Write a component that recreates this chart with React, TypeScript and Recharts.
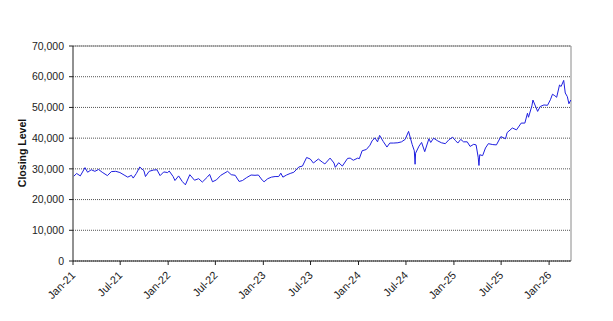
import React from 'react';
import { LineChart, Line, XAxis, YAxis, CartesianGrid, ReferenceLine } from 'recharts';

// closing level, read off the reference roughly twice a month (plus the sharp moves)
const dates: string[] = [
  '2021-01-04', '2021-01-15', '2021-01-29', '2021-02-16', '2021-02-26', '2021-03-12', '2021-03-26',
  '2021-04-09', '2021-04-23', '2021-05-13', '2021-05-28', '2021-06-14', '2021-06-30', '2021-07-16',
  '2021-07-30', '2021-08-13', '2021-08-20', '2021-09-01', '2021-09-14', '2021-09-30', '2021-10-06',
  '2021-10-20', '2021-11-05', '2021-11-19', '2021-12-01', '2021-12-15', '2021-12-30',
  '2022-01-05', '2022-01-20', '2022-01-27', '2022-02-10', '2022-02-24', '2022-03-08', '2022-03-25',
  '2022-04-12', '2022-04-28', '2022-05-12', '2022-05-31', '2022-06-09', '2022-06-20', '2022-07-05',
  '2022-07-22', '2022-08-17', '2022-08-31', '2022-09-15', '2022-09-30', '2022-10-13', '2022-10-28',
  '2022-11-15', '2022-11-30', '2022-12-13', '2022-12-28',
  '2023-01-04', '2023-01-18', '2023-02-01', '2023-02-15', '2023-03-01', '2023-03-09', '2023-03-17',
  '2023-03-31', '2023-04-14', '2023-04-28', '2023-05-17', '2023-05-31', '2023-06-16', '2023-06-30',
  '2023-07-12', '2023-07-31', '2023-08-15', '2023-08-25', '2023-09-14', '2023-09-29', '2023-10-04',
  '2023-10-17', '2023-10-31', '2023-11-20', '2023-11-30', '2023-12-12', '2023-12-29',
  '2024-01-04', '2024-01-15', '2024-01-31', '2024-02-14', '2024-02-22', '2024-03-04', '2024-03-14',
  '2024-03-22', '2024-04-05', '2024-04-19', '2024-04-30', '2024-05-15', '2024-05-31', '2024-06-14',
  '2024-06-28', '2024-07-11', '2024-07-25', '2024-08-02', '2024-08-05', '2024-08-07', '2024-08-20',
  '2024-08-30', '2024-09-11', '2024-09-27', '2024-10-04', '2024-10-15', '2024-10-31', '2024-11-14',
  '2024-11-29', '2024-12-13', '2024-12-27',
  '2025-01-06', '2025-01-16', '2025-01-27', '2025-02-07', '2025-02-21', '2025-03-04', '2025-03-18',
  '2025-03-27', '2025-04-04', '2025-04-07', '2025-04-10', '2025-04-21', '2025-05-02', '2025-05-13',
  '2025-05-30', '2025-06-13', '2025-06-30', '2025-07-18', '2025-07-24', '2025-08-13', '2025-08-29',
  '2025-09-16', '2025-09-30', '2025-10-10', '2025-10-14', '2025-10-27', '2025-10-31', '2025-11-18',
  '2025-11-28', '2025-12-12', '2025-12-26',
  '2026-01-06', '2026-01-14', '2026-01-23', '2026-01-30', '2026-02-10', '2026-02-16', '2026-02-26',
  '2026-03-04', '2026-03-12', '2026-03-18', '2026-03-25',
];

const closes: number[] = [
  27600, 28500, 27700, 30400, 28900, 29700, 29200,
  29800, 28900, 27800, 29100, 29200, 28800, 28000,
  27300, 27900, 27000, 28500, 30600, 29400, 27500,
  29200, 29600, 29700, 27800, 29000, 28800,
  29300, 27500, 26200, 27700, 25900, 24800, 28100,
  26300, 26800, 25700, 27300, 28200, 25800, 26400,
  27900, 29200, 28100, 27900, 25900, 26200, 27100,
  28000, 27900, 28000, 26300,
  25800, 26800, 27300, 27500, 27500, 28600, 27300,
  28000, 28500, 28900, 30600, 30900, 33700, 33200,
  31900, 33200, 32200, 31600, 33500, 31900, 30500,
  32000, 30900, 33400, 33500, 32800, 33500,
  33300, 35900, 36300, 37700, 39100, 40100, 38800,
  40900, 38900, 37100, 38400, 38400, 38500, 38800,
  39600, 42200, 37900, 35900, 31500, 35100, 37400,
  38600, 35600, 39800, 38600, 40000, 39100, 38500,
  38200, 39500, 40300,
  39300, 38400, 39600, 38800, 38800, 37300, 38000,
  37800, 33800, 31100, 34600, 34300, 36800, 38200,
  37900, 37800, 40500, 39800, 41800, 43300, 42700,
  44900, 44900, 48100, 46800, 50500, 52400, 48700,
  50300, 50800, 50700,
  52500, 54300, 53800, 53300, 57300, 56800, 58800,
  54700, 53500, 51200, 52400,
];

const tickDates: string[] = [
  '2021-01-01', '2021-07-01', '2022-01-01', '2022-07-01', '2023-01-01', '2023-07-01',
  '2024-01-01', '2024-07-01', '2025-01-01', '2025-07-01', '2026-01-01',
];
const tickLabels: string[] = [
  'Jan-21', 'Jul-21', 'Jan-22', 'Jul-22', 'Jan-23', 'Jul-23',
  'Jan-24', 'Jul-24', 'Jan-25', 'Jul-25', 'Jan-26',
];
const yTicks: number[] = [0, 10000, 20000, 30000, 40000, 50000, 60000, 70000];

const xStart = Date.parse('2021-01-01');
const xEnd = Date.parse('2026-03-26');
const xTicks = tickDates.map((d) => Date.parse(d));

const data = dates.map((d, i) => ({ t: Date.parse(d), close: closes[i] }));

const FONT = '"Liberation Sans", Arial, sans-serif';

const DateTick = (props: any) => {
  const { x, y, payload } = props;
  const idx = xTicks.indexOf(payload.value);
  return (
    <g transform={`translate(${x + 3},${y + 9})`}>
      <text textAnchor="end" transform="rotate(-45)" fontSize={11} fontFamily={FONT} fill="#222">
        {tickLabels[idx]}
      </text>
    </g>
  );
};

const AxisTitle = () => (
  <text
    x={26}
    y={153}
    transform="rotate(-90, 26, 153)"
    textAnchor="middle"
    fontSize={10.5}
    fontWeight="bold"
    fontFamily={FONT}
    fill="#111"
  >
    Closing Level
  </text>
);

export default function App() {
  return (
    <div style={{ width: 613, height: 321, background: '#fff' }}>
      <style>{'body{margin:0}'}</style>
      <LineChart width={613} height={321} data={data} margin={{ top: 46, right: 42, left: 0, bottom: 0 }}>
        <CartesianGrid vertical={false} stroke="#555" strokeDasharray="1 1" />
        <XAxis
          type="number"
          dataKey="t"
          domain={[xStart, xEnd]}
          ticks={xTicks}
          tick={<DateTick />}
          height={60}
          interval={0}
          axisLine={{ stroke: '#222' }}
          tickLine={{ stroke: '#222' }}
          tickSize={4}
        />
        <YAxis
          domain={[0, 70000]}
          ticks={yTicks}
          width={73}
          interval={0}
          tickFormatter={(v: number) => v.toLocaleString('en-US')}
          tick={{ fontSize: 10.5, fontFamily: FONT, fill: '#222' }}
          axisLine={{ stroke: '#222' }}
          tickLine={{ stroke: '#222' }}
          tickSize={4}
          tickMargin={5}
          label={<AxisTitle />}
        />
        <ReferenceLine y={70000} stroke="#8a8a8a" />
        <ReferenceLine x={xEnd} stroke="#8a8a8a" />
        <Line
          type="linear"
          dataKey="close"
          stroke="#1f1fe0"
          strokeWidth={1}
          dot={false}
          isAnimationActive={false}
        />
      </LineChart>
    </div>
  );
}
